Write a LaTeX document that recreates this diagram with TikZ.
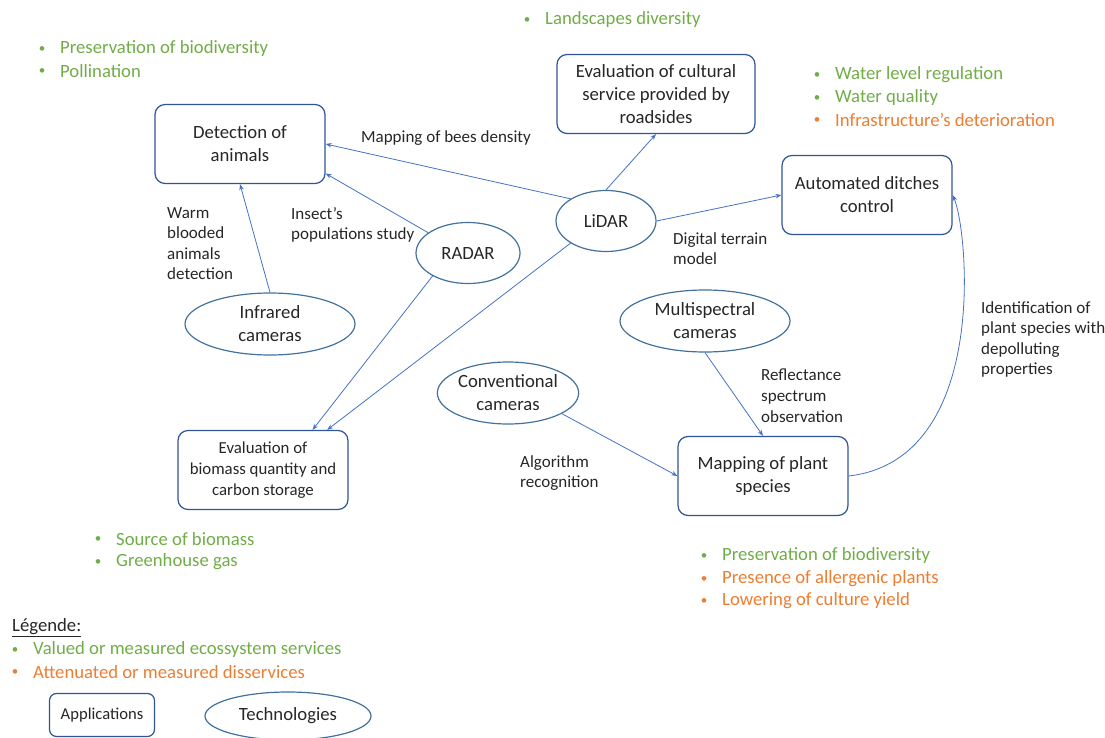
\documentclass[tikz,border=0pt]{standalone}
\usepackage{fontspec}
\setmainfont{Carlito}
\usetikzlibrary{shapes.geometric,arrows.meta}
\definecolor{txt}{HTML}{262626}
\definecolor{gr}{HTML}{70AD47}
\definecolor{org}{HTML}{ED7D31}
\definecolor{boxb}{HTML}{2F5597}
\definecolor{elb}{HTML}{41719C}
\definecolor{arrc}{HTML}{4472C4}
\tikzset{
  app/.style={draw=boxb, line width=1.2pt, rounded corners=10pt, align=center, text=txt,
    font=\fontsize{18.7}{23}\selectfont, inner sep=0pt, minimum width=170pt, minimum height=79pt},
  tech/.style={ellipse, draw=elb, line width=1.2pt, align=center, text=txt,
    font=\fontsize{18.7}{23}\selectfont, inner sep=0pt},
  lab/.style={align=left, text=txt, font=\fontsize{17}{20.6}\selectfont, inner sep=0pt, anchor=north west, yshift=-4pt},
  arr/.style={draw=arrc, line width=0.8pt, -{Stealth[length=6pt,width=4.5pt]}},
  gitem/.style={text=gr, font=\fontsize{18.7}{22}\selectfont, inner sep=0pt, anchor=west, yshift=-2pt},
  oitem/.style={text=org, font=\fontsize{18.7}{22}\selectfont, inner sep=0pt, anchor=west, yshift=-2pt},
}
\newcommand{\bul}[3]{\node[text=#3, font=\fontsize{13}{13}\selectfont, inner sep=0pt, yshift=-3pt] at (#1,#2) {•};}
\begin{document}
\begin{tikzpicture}[x=1pt,y=-1pt]
\useasboundingbox (0,0) rectangle (1105,738);
% applications
\node[app] (det) at (240,144) {Detection of\\animals};
\node[app, minimum width=198pt] (cult) at (656,94) {Evaluation of cultural\\service provided by\\roadsides};
\node[app] (ditch) at (867,195) {Automated ditches\\control};
\node[app, font=\fontsize{16.8}{21}\selectfont] (bio) at (263,470) {Evaluation of\\biomass quantity and\\carbon storage};
\node[app] (map) at (763,476) {Mapping of plant\\species};
% technologies
\node[tech, minimum width=170pt, minimum height=62pt] (ir) at (270,324) {Infrared\\cameras};
\node[tech, minimum width=104pt, minimum height=61pt] (radar) at (468,253) {RADAR};
\node[tech, minimum width=100pt, minimum height=61pt] (lidar) at (606,221) {LiDAR};
\node[tech, minimum width=170pt, minimum height=62pt] (ms) at (705,321) {Multispectral\\cameras};
\node[tech, minimum width=140pt, minimum height=62pt] (conv) at (508,393) {Conventional\\cameras};
% connectors
\draw[arr] (ir.north) -- (det.south);
\draw[arr] (radar.153) -- (det.-19);
\draw[arr] (lidar.148) -- (det.east);
\draw[arr] (lidar.north) -- (cult.south);
\draw[arr] (lidar.east) -- (ditch.west);
\draw[arr] (lidar.212) -- (bio.32);
\draw[arr] (radar.213) -- (bio.39);
\draw[arr] (ms.south) -- (map.north);
\draw[arr] (conv.-21) -- (map.west);
\draw[arr] (map.east) .. controls (990,460) and (968,230) .. (ditch.east);
% connector labels
\node[lab, anchor=center, yshift=2pt] (l1) at (446,136) {Mapping of bees density};
\node[lab] (l2) at (167,203) {Warm\\blooded\\animals\\detection};
\node[lab] (l3) at (291,203) {Insect’s\\populations study};
\node[lab] (l4) at (673,228) {Digital terrain\\model};
\node[lab] (l5) at (761,365) {Reflectance\\spectrum\\observation};
\node[lab] (l6) at (520,451) {Algorithm\\recognition};
\node[lab] (l7) at (981,297) {Identification of\\plant species with\\depolluting\\properties};
% services lists
\bul{42}{47}{gr}\node[gitem] (s1) at (60,47) {Preservation of biodiversity};
\bul{42}{69}{gr}\node[gitem] (s2) at (60,69) {Pollination};
\bul{527}{18}{gr}\node[gitem] (s3) at (545,18) {Landscapes diversity};
\bul{817}{73}{gr}\node[gitem] (s4) at (835,73) {Water level regulation};
\bul{817}{96}{gr}\node[gitem] (s5) at (835,96) {Water quality};
\bul{817}{118}{org}\node[oitem] (s6) at (835,118) {Infrastructure’s deterioration};
\bul{98}{537}{gr}\node[gitem] (s7) at (116,537) {Source of biomass};
\bul{98}{560}{gr}\node[gitem] (s8) at (116,560) {Greenhouse gas};
\bul{704}{554}{gr}\node[gitem] (s9) at (722,554) {Preservation of biodiversity};
\bul{704}{577}{org}\node[oitem] (s10) at (722,577) {Presence of allergenic plants};
\bul{704}{599}{org}\node[oitem] (s11) at (722,599) {Lowering of culture yield};
% legend
\node[text=txt, font=\fontsize{18.7}{22}\selectfont, inner sep=0pt, anchor=west, yshift=-2pt] (leg) at (12,626) {\underline{Légende:}};
\bul{15}{648}{gr}\node[gitem] (lg1) at (33,648) {Valued or measured ecossystem services};
\bul{15}{670}{org}\node[oitem] (lg2) at (33,670) {Attenuated or measured disservices};
\node[app, minimum width=105pt, minimum height=43pt, rounded corners=7pt, font=\fontsize{16.6}{20}\selectfont] (la) at (102,715) {Applications};
\node[tech, minimum width=166pt, minimum height=48pt] (lt) at (288,716) {Technologies};
\end{tikzpicture}
\end{document}
